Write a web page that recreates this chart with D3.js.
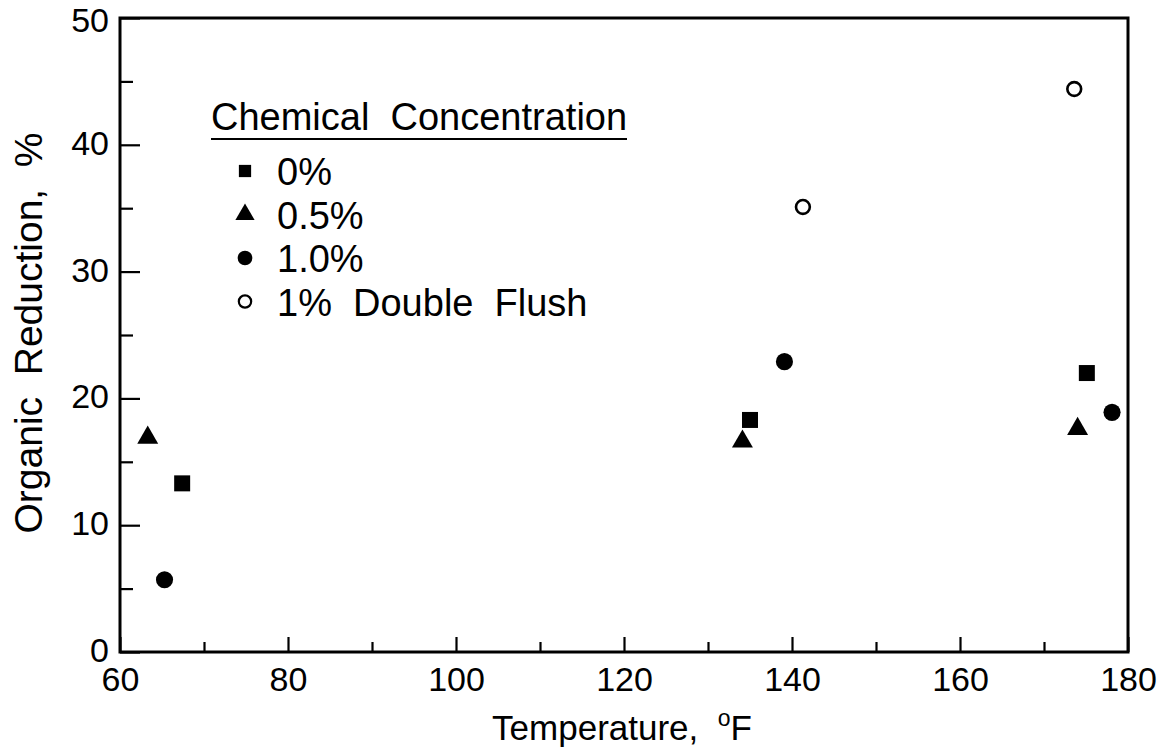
<!DOCTYPE html>
<html>
<head>
<meta charset="utf-8">
<script src="https://cdn.jsdelivr.net/npm/d3@7"></script>
<style>
  body { margin: 0; background: #fff; }
  svg { display: block; font-family: "Liberation Sans", Arial, sans-serif; }
  svg text { white-space: pre; }
</style>
</head>
<body>
<div id="container"></div>
<script>
// Series names (legend order)
const seriesNames = ["0%", "0.5%", "1.0%", "1% Double Flush"];

// Temperature (°F) and organic reduction (%) per series
const temp0 = [67.4, 135.0, 175.1];
const red0 = [13.3, 18.3, 22.0];

const temp05 = [63.3, 134.1, 174.0];
const red05 = [16.9, 16.6, 17.6];

const temp10 = [65.3, 139.1, 178.1];
const red10 = [5.7, 22.9, 18.9];

const tempDF = [141.3, 173.6];
const redDF = [35.1, 44.4];

const xTicks = [60, 80, 100, 120, 140, 160, 180];
const yTicks = [0, 10, 20, 30, 40, 50];

document.addEventListener("DOMContentLoaded", () => {
  const width = 1158;
  const height = 753;
  const margin = { top: 18, left: 120, right: 30, bottom: 101 };

  const svg = d3.
  select("#container").
  append("svg").
  attr("width", width).
  attr("height", height);

  const x = d3.
  scaleLinear().
  domain([60, 180]).
  range([margin.left, width - margin.right]);

  const y = d3.
  scaleLinear().
  domain([0, 50]).
  range([height - margin.bottom, margin.top]);

  const series = [
  { name: seriesNames[0], xs: temp0, ys: red0, type: d3.symbolSquare, size: 256, fill: "#000" },
  { name: seriesNames[1], xs: temp05, ys: red05, type: d3.symbolTriangle, size: 190, fill: "#000" },
  { name: seriesNames[2], xs: temp10, ys: red10, type: d3.symbolCircle, size: 230, fill: "#000" },
  { name: seriesNames[3], xs: tempDF, ys: redDF, type: d3.symbolCircle, size: 150, fill: "none" }];


  // Minor ticks (inward), no labels
  const xMinor = d3.range(70, 180, 20);
  const yMinor = d3.range(5, 50, 10);

  const gx = svg.
  append("g").
  attr("transform", `translate(0,${y(0)})`).
  call(d3.axisBottom(x).tickValues(xTicks).tickSize(-15).tickFormat(d3.format("d")));

  gx.selectAll("text").
  attr("dy", null).
  attr("y", 39).
  style("font-size", "34px").
  attr("fill", "#000");

  svg.
  append("g").
  attr("transform", `translate(0,${y(0)})`).
  call(d3.axisBottom(x).tickValues(xMinor).tickSize(-10).tickFormat(""));

  const gy = svg.
  append("g").
  attr("transform", `translate(${x(60)},0)`).
  call(d3.axisLeft(y).tickValues(yTicks).tickSize(-20).tickFormat(d3.format("d")));

  // top label sits a little lower so it stays on the page
  gy.selectAll("text").
  attr("x", -11).
  attr("dy", d => d === 50 ? "0.4em" : "0.28em").
  style("font-size", "34px").
  attr("fill", "#000");

  svg.
  append("g").
  attr("transform", `translate(${x(60)},0)`).
  call(d3.axisLeft(y).tickValues(yMinor).tickSize(-13).tickFormat(""));

  svg.selectAll(".domain").remove();
  svg.selectAll(".tick line").attr("stroke", "#000").attr("stroke-width", 2.2);

  // Frame
  svg.
  append("rect").
  attr("x", x(60)).
  attr("y", y(50)).
  attr("width", x(180) - x(60)).
  attr("height", y(0) - y(50)).
  attr("fill", "none").
  attr("stroke", "#000").
  attr("stroke-width", 3);

  // Points
  series.forEach(s => {
    const pts = s.xs.map((t, i) => [t, s.ys[i]]);
    svg.
    append("g").
    selectAll("path").
    data(pts).
    enter().
    append("path").
    attr("transform", d => `translate(${x(d[0])},${y(d[1])})`).
    attr("d", d3.symbol().type(s.type).size(s.size)).
    attr("fill", s.fill).
    attr("stroke", s.fill === "none" ? "#000" : "none").
    attr("stroke-width", 2.6);
  });

  // Axis titles
  const xTitle = svg.
  append("text").
  attr("x", 622).
  attr("y", 740).
  attr("text-anchor", "middle").
  style("font-size", "35px");

  xTitle.append("tspan").text("Temperature,  ");
  xTitle.append("tspan").attr("dy", -14).style("font-size", "23px").text("o");
  xTitle.append("tspan").attr("dy", 14).text("F");

  svg.
  append("text").
  attr("transform", "translate(42,333) rotate(-90)").
  attr("text-anchor", "middle").
  style("font-size", "39px").
  text("Organic  Reduction,  %");

  ////////////////////// LEGEND ////////////////////////////
  const legend = svg.append("g");

  legend.
  append("text").
  attr("x", 211).
  attr("y", 130).
  style("font-size", "38px").
  text("Chemical  Concentration");

  legend.
  append("line").
  attr("x1", 211).
  attr("x2", 627).
  attr("y1", 139).
  attr("y2", 139).
  attr("stroke", "#000").
  attr("stroke-width", 2.2);

  const legendSizes = [150, 160, 170, 120];

  series.forEach((s, i) => {
    const cy = 171 + i * 43.5;
    legend.
    append("path").
    attr("transform", `translate(245,${cy})`).
    attr("d", d3.symbol().type(s.type).size(legendSizes[i])).
    attr("fill", s.fill).
    attr("stroke", s.fill === "none" ? "#000" : "none").
    attr("stroke-width", 2.2);
    legend.
    append("text").
    attr("x", 277).
    attr("y", cy + 14).
    style("font-size", "38px").
    text(s.name.replace(/ /g, "  "));
  });
  ////////////////////// END LEGEND ////////////////////////////
});
</script>
</body>
</html>
